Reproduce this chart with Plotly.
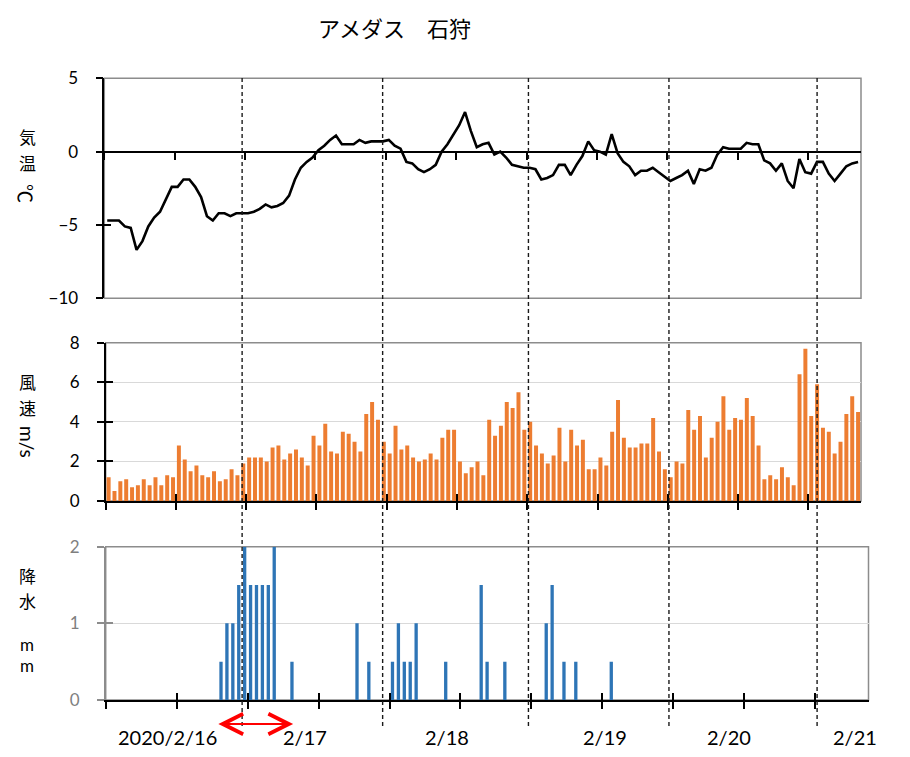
import plotly.graph_objects as go

W, H = 910, 757
OFF = 8  # page body margin in the browser


def px_x(p):
    return (p - OFF) / W


def px_y(p):
    return 1 - (p - OFF) / H


# ---------------- data (hourly, 129 hours starting 2020/2/16) ----------------
hours = list(range(129))

temperature = [
    -4.7, -4.7, -4.7, -5.1, -5.2, -6.7, -6.1, -5.1, -4.5, -4.1,
    -3.3, -2.4, -2.4, -1.9, -1.9, -2.4, -3.1, -4.4, -4.7, -4.2,
    -4.2, -4.4, -4.2, -4.2, -4.2, -4.1, -3.9, -3.6, -3.8, -3.7,
    -3.5, -3.0, -1.9, -1.1, -0.7, -0.4, 0.1, 0.4, 0.8, 1.1,
    0.5, 0.5, 0.5, 0.8, 0.6, 0.7, 0.7, 0.7, 0.8, 0.4,
    0.2, -0.7, -0.8, -1.2, -1.4, -1.2, -0.9, 0.0, 0.5, 1.2,
    1.8, 2.7, 1.4, 0.3, 0.5, 0.6, -0.2, 0.0, -0.4, -0.9,
    -1.0, -1.1, -1.1, -1.2, -1.9, -1.8, -1.6, -0.9, -0.9, -1.6,
    -0.9, -0.3, 0.7, 0.1, 0.0, -0.2, 1.2, -0.1, -0.7, -1.0,
    -1.6, -1.3, -1.3, -1.1, -1.4, -1.7, -2.0, -1.8, -1.6, -1.3,
    -2.2, -1.2, -1.3, -1.1, -0.2, 0.3, 0.2, 0.2, 0.2, 0.6,
    0.5, 0.5, -0.6, -0.8, -1.3, -0.8, -2.0, -2.5, -0.5, -1.4,
    -1.5, -0.7, -0.7, -1.5, -2.0, -1.5, -1.0, -0.8, -0.7,
]

wind = [
    1.2, 0.5, 1.0, 1.1, 0.7, 0.8, 1.1, 0.8, 1.2, 0.8,
    1.3, 1.2, 2.8, 2.1, 1.5, 1.8, 1.3, 1.2, 1.5, 1.0,
    1.1, 1.6, 1.3, 1.9, 2.2, 2.2, 2.2, 2.0, 2.7, 2.8,
    2.1, 2.4, 2.6, 2.2, 1.8, 3.3, 2.8, 3.9, 2.5, 2.4,
    3.5, 3.4, 3.0, 2.5, 4.4, 5.0, 4.1, 3.0, 2.4, 3.8,
    2.6, 2.8, 2.2, 2.0, 2.1, 2.4, 2.1, 3.2, 3.6, 3.6,
    2.0, 1.4, 1.7, 2.0, 1.3, 4.1, 3.3, 3.8, 5.0, 4.7,
    5.5, 3.6, 4.0, 2.8, 2.4, 1.9, 2.3, 3.7, 2.0, 3.6,
    2.8, 3.1, 1.6, 1.6, 2.2, 1.8, 3.5, 5.1, 3.2, 2.7,
    2.7, 2.9, 2.9, 4.2, 2.5, 1.6, 1.2, 2.0, 1.9, 4.6,
    3.6, 4.3, 2.2, 3.2, 4.0, 5.3, 3.6, 4.2, 4.1, 5.2,
    4.3, 2.8, 1.1, 1.3, 1.1, 1.7, 1.2, 0.8, 6.4, 7.7,
    4.3, 5.9, 3.7, 3.5, 2.4, 3.0, 4.4, 5.3, 4.5,
]

precip = [
    0, 0, 0, 0, 0, 0, 0, 0, 0, 0,
    0, 0, 0, 0, 0, 0, 0, 0, 0, 0.5,
    1, 1, 1.5, 2, 1.5, 1.5, 1.5, 1.5, 2, 0,
    0, 0.5, 0, 0, 0, 0, 0, 0, 0, 0,
    0, 0, 1, 0, 0.5, 0, 0, 0, 0.5, 1,
    0.5, 0.5, 1, 0, 0, 0, 0, 0.5, 0, 0,
    0, 0, 0, 1.5, 0.5, 0, 0, 0.5, 0, 0,
    0, 0, 0, 0, 1, 1.5, 0, 0.5, 0, 0.5,
    0, 0, 0, 0, 0, 0.5, 0, 0, 0, 0,
    0, 0, 0, 0, 0, 0, 0, 0, 0, 0,
    0, 0, 0, 0, 0, 0, 0, 0, 0, 0,
    0, 0, 0, 0, 0, 0, 0, 0, 0, 0,
    0, 0, 0, 0, 0, 0, 0, 0, 0,
]

hour_ticks = [-0.5 + 12 * k for k in range(11)]
temp_ticks = [-10, -5, 0, 5]
wind_ticks = [0, 2, 4, 6, 8]
precip_ticks = [0, 1, 2]

date_labels = ["2020/2/16", "2/17", "2/18", "2/19", "2/20", "2/21"]
date_label_pos = [9.9, 33.2, 57.2, 84.0, 104.9, 126.2]
event_lines = [22.8, 46.8, 71.7, 95.7, 121.0]
arrow_span = [18.3, 31.2]

title_text = "アメダス　石狩"

# ---------------- styles ----------------
LATIN = "Lato, 'Noto Sans CJK JP', sans-serif"
CJK = "'Noto Sans CJK JP', sans-serif"
BORDER = "#8c8c8c"
GRID = "#d9d9d9"
ORANGE = "#ED7D31"
BLUE = "#2E75B6"

fig = go.Figure()

fig.add_trace(go.Scatter(x=hours, y=temperature, mode="lines",
                         line=dict(color="black", width=2.6),
                         xaxis="x", yaxis="y", showlegend=False))
fig.add_trace(go.Bar(x=hours, y=wind, width=0.68, marker=dict(color=ORANGE, line=dict(width=0)),
                     xaxis="x2", yaxis="y2", showlegend=False))
fig.add_trace(go.Bar(x=hours, y=precip, width=0.56, marker=dict(color=BLUE, line=dict(width=0)),
                     xaxis="x3", yaxis="y3", showlegend=False))
# invisible helpers so the overlay tick axes are drawn
for xa, ya in [("x", "y4"), ("x4", "y2"), ("x2", "y5"), ("x5", "y3"), ("x3", "y6")]:
    fig.add_trace(go.Scatter(x=[None], y=[None], xaxis=xa, yaxis=ya,
                             showlegend=False, hoverinfo="skip"))

XR = [-0.5, 128.5]
top_dom_y = [px_y(298.3), px_y(78.3)]
zero_pos = top_dom_y[0] + (0 - (-10)) / 15 * (top_dom_y[1] - top_dom_y[0])

common_x = dict(range=XR, tickvals=hour_ticks, showticklabels=False, showgrid=False,
                zeroline=False, tickcolor="black", tickwidth=1.5, automargin=False)
common_y = dict(showgrid=False, zeroline=False, tickwidth=1.5, ticklabelstandoff=14,
                automargin=False)

fig.update_layout(
    width=W, height=H, autosize=False,
    margin=dict(l=0, r=0, t=0, b=0, pad=0, autoexpand=False),
    paper_bgcolor="white", plot_bgcolor="white",
    showlegend=False,
    font=dict(family=LATIN, color="black"),
    xaxis=dict(common_x, domain=[px_x(104.3), px_x(861)], anchor="free", position=zero_pos,
               showline=True, linecolor="black", linewidth=1.5, ticks="outside", ticklen=8),
    yaxis=dict(common_y, domain=top_dom_y, range=[-10, 5], anchor="x", tickvals=temp_ticks,
               showline=True, linecolor="black", linewidth=1.5, ticks="outside", ticklen=7,
               tickcolor="black", tickfont=dict(size=17, color="black", family=LATIN)),
    yaxis4=dict(overlaying="y", anchor="x", side="left", range=[-10, 5], tickvals=temp_ticks,
                ticks="inside", ticklen=7, tickcolor="black", tickwidth=1.5, automargin=False,
                showticklabels=False, showgrid=False, zeroline=False, showline=False),

    xaxis2=dict(common_x, domain=[px_x(105.7), px_x(861)], anchor="y2",
                showline=True, linecolor="black", linewidth=1.5, ticks="outside", ticklen=7),
    xaxis4=dict(common_x, overlaying="x2", anchor="y2", side="bottom",
                ticks="inside", ticklen=7, showline=False),
    yaxis2=dict(common_y, domain=[px_y(501), px_y(342.7)], range=[0, 8], anchor="x2",
                tickvals=wind_ticks, showline=True, linecolor="black", linewidth=1.5,
                ticks="outside", ticklen=7, tickcolor="black",
                showgrid=True, gridcolor=GRID, gridwidth=1.3,
                tickfont=dict(size=17, color="black", family=LATIN)),
    yaxis5=dict(overlaying="y2", anchor="x2", side="left", range=[0, 8], tickvals=wind_ticks,
                ticks="inside", ticklen=7, tickcolor="black", tickwidth=1.5, automargin=False,
                showticklabels=False, showgrid=False, zeroline=False, showline=False),

    xaxis3=dict(common_x, domain=[px_x(105.7), px_x(868.5)], anchor="y3",
                showline=True, linecolor="black", linewidth=1.5, ticks="outside", ticklen=7),
    xaxis5=dict(common_x, overlaying="x3", anchor="y3", side="bottom",
                ticks="inside", ticklen=7, showline=False),
    yaxis3=dict(common_y, domain=[px_y(700), px_y(546.7)], range=[0, 2], anchor="x3",
                tickvals=precip_ticks, showline=True, linecolor=BORDER, linewidth=1.5,
                ticks="outside", ticklen=7, tickcolor=BORDER,
                showgrid=True, gridcolor=GRID, gridwidth=1.3,
                tickfont=dict(size=17, color="#7f7f7f", family=LATIN)),
    yaxis6=dict(overlaying="y3", anchor="x3", side="left", range=[0, 2], tickvals=precip_ticks,
                ticks="inside", ticklen=7, tickcolor=BORDER, tickwidth=1.5, automargin=False,
                showticklabels=False, showgrid=False, zeroline=False, showline=False),
)

# panel borders
for xr, yr in [("x", "y"), ("x2", "y2"), ("x3", "y3")]:
    fig.add_shape(type="rect", xref=f"{xr} domain", yref=f"{yr} domain",
                  x0=0, x1=1, y0=0, y1=1, line=dict(color=BORDER, width=1.5), layer="below")

# dashed event lines spanning all panels
for h in event_lines:
    fig.add_shape(type="line", xref="x2", yref="paper", x0=h, x1=h,
                  y0=px_y(726), y1=px_y(75),
                  line=dict(color="#1a1a1a", width=1.4, dash="4px,3px"), layer="above")

# red double arrow
fig.add_annotation(x=arrow_span[1], y=px_y(724), xref="x3", yref="paper",
                   ax=arrow_span[0], ay=0, axref="x3", ayref="pixel",
                   text="", showarrow=True, arrowside="end+start",
                   arrowhead=5, startarrowhead=5, arrowsize=2.0, startarrowsize=2.0,
                   arrowwidth=2, arrowcolor="#FF0000", standoff=0, startstandoff=0)

# date labels
for lab, pos in zip(date_labels, date_label_pos):
    fig.add_annotation(x=pos, y=px_y(737), xref="x3", yref="paper", text=lab,
                       showarrow=False, font=dict(size=20, family=LATIN, color="black"),
                       xanchor="center", yanchor="middle")

# title
fig.add_annotation(x=px_x(394), y=px_y(27), xref="paper", yref="paper", text=title_text,
                   showarrow=False, font=dict(size=22, family=CJK, color="black"),
                   xanchor="center", yanchor="middle")

# vertical axis titles, one glyph group each: (text, centre y in px, angle, size, family)
axis_titles = [("気", 137, 0, 17, CJK), ("温", 162, 0, 17, CJK), ("℃", 193, 90, 19, CJK),
               ("風", 382, 0, 17, CJK), ("速", 407, 0, 17, CJK), ("m/s", 442, 90, 19, LATIN),
               ("降", 575, 0, 17, CJK), ("水", 600, 0, 17, CJK),
               ("m", 644, 0, 17, LATIN), ("m", 665, 0, 17, LATIN)]
for txt, yy, ang, size, fam in axis_titles:
    fig.add_annotation(x=px_x(27), y=px_y(yy), xref="paper", yref="paper", text=txt,
                       showarrow=False, textangle=ang,
                       font=dict(size=size, family=fam, color="black"),
                       xanchor="center", yanchor="middle")

fig.write_html("out.html")
